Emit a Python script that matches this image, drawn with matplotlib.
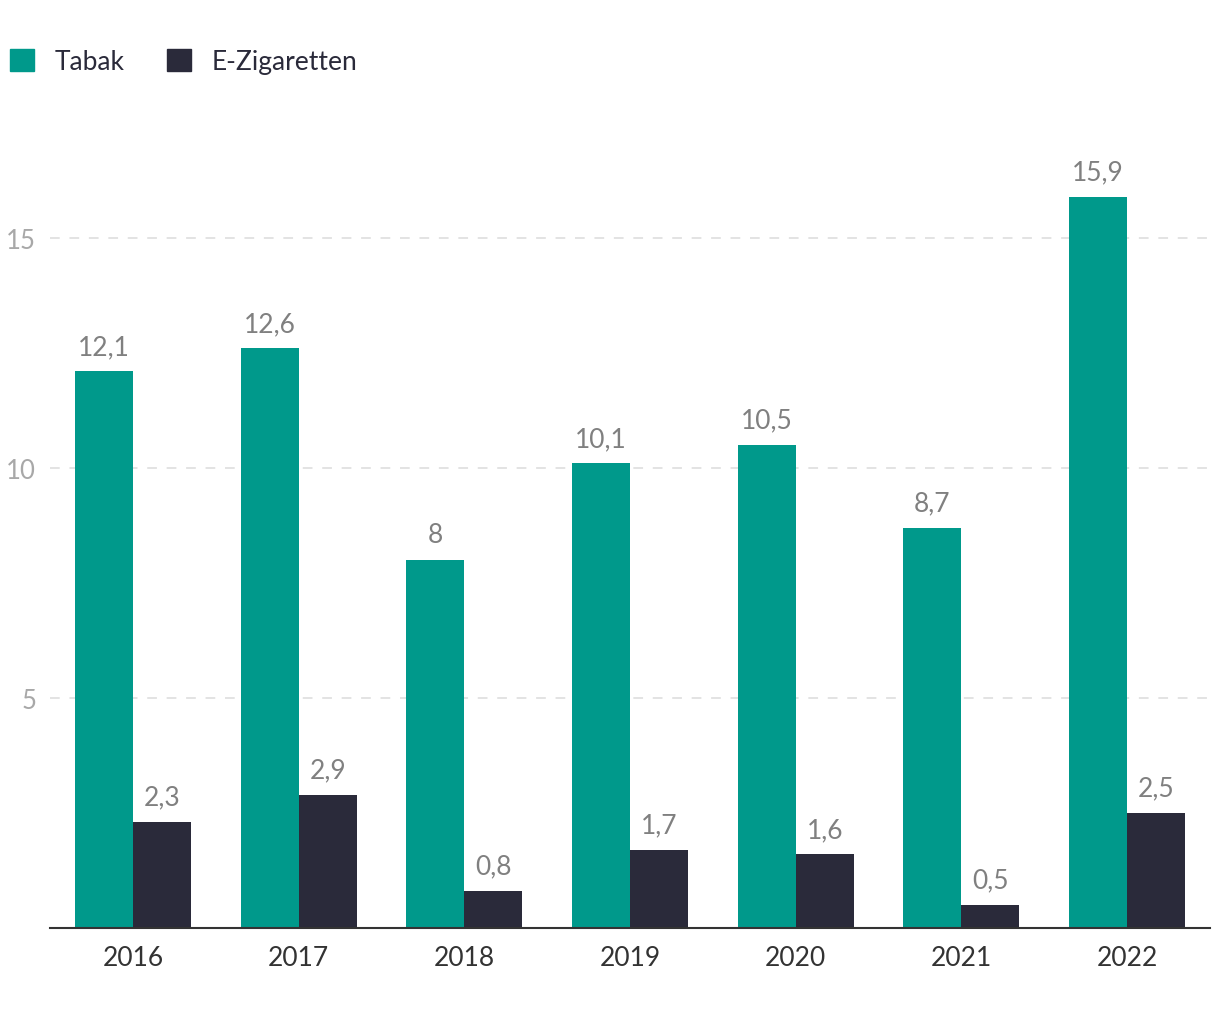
import matplotlib.pyplot as plt
import numpy as np
from matplotlib.patches import Patch

years = ["2016", "2017", "2018", "2019", "2020", "2021", "2022"]
tabak = [12.1, 12.6, 8.0, 10.1, 10.5, 8.7, 15.9]
ezig = [2.3, 2.9, 0.8, 1.7, 1.6, 0.5, 2.5]
series_names = ["Tabak", "E-Zigaretten"]
yticks = [5, 10, 15]

teal = "#00998b"
dark = "#2a2a3a"

plt.rcParams["font.family"] = ["Lato", "DejaVu Sans"]

fig = plt.figure(figsize=(12.2, 10.2), dpi=100)
ax = fig.add_axes([50 / 1220, 91 / 1020, 1160 / 1220, 782 / 1020])

x = np.arange(len(years))
w = 0.35
b1 = ax.bar(x - w / 2, tabak, w, color=teal, zorder=3)
b2 = ax.bar(x + w / 2, ezig, w, color=dark, zorder=3)

fmt = lambda v: ("%g" % v).replace(".", ",")
for bars, vals in ((b1, tabak), (b2, ezig)):
    ax.bar_label(bars, labels=[fmt(v) for v in vals], padding=9,
                 fontsize=19, color="#808080")

ax.set_xlim(-0.5, 6.5)
ax.set_ylim(0, 17)
ax.set_xticks(x)
ax.set_xticklabels(years, fontsize=19, color="#333333")
ax.set_yticks(yticks)
ax.set_yticklabels([str(t) for t in yticks], fontsize=18.5, color="#a8a8a8")
ax.tick_params(axis="x", length=0, pad=12)
ax.tick_params(axis="y", length=0, pad=10)

ax.grid(axis="y", color="#e3e3e3", linewidth=1.4, linestyle=(0, (5, 5)), zorder=0)
for s in ("top", "right", "left"):
    ax.spines[s].set_visible(False)
ax.spines["bottom"].set_color("#333333")
ax.spines["bottom"].set_linewidth(1.5)
ax.spines["bottom"].set_zorder(4)

handles = [Patch(color=teal), Patch(color=dark)]
fig.legend(handles, series_names, loc="upper left",
           bbox_to_anchor=(10 / 1220, 1 - 50 / 1020),
           ncol=2, frameon=False, fontsize=19, labelcolor="#2a2a3a",
           handlelength=0.9, handleheight=0.9, handletextpad=0.8,
           columnspacing=1.6, borderaxespad=0, borderpad=0)

plt.savefig("out.png", dpi=100)
plt.close()
